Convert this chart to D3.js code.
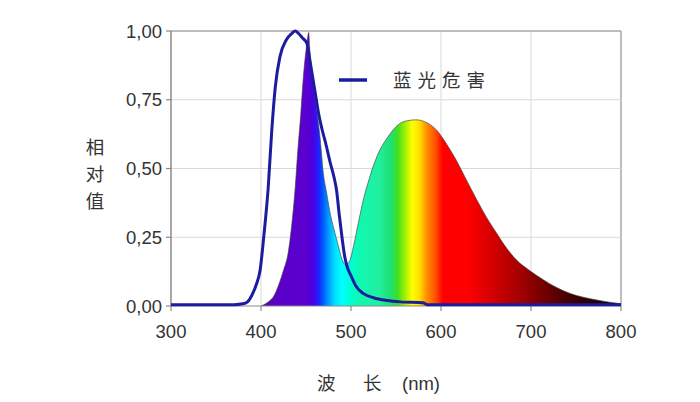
<!DOCTYPE html>
<html>
<head>
<meta charset="utf-8">
<script src="https://cdn.jsdelivr.net/npm/d3@7"></script>
<style>
  html, body { margin: 0; padding: 0; background: #fff; }
  svg { display: block; }
</style>
</head>
<body>
<div id="chart"></div>
<script>
// ---- data ----
const xTicks = [300, 400, 500, 600, 700, 800];
const yTicks = [0, 0.25, 0.5, 0.75, 1.0];
const yTickLabels = ["0,00", "0,25", "0,50", "0,75", "1,00"];
const xTitleParts = ["波", "长", "(nm)"];
const yTitleChars = ["相", "对", "值"];
const legendLabel = "蓝光危害";

// blue light hazard curve
const hazardNm  = [300, 370, 380, 385, 390, 395, 399, 403, 408, 412, 416, 421, 428, 434, 438, 442, 446, 451, 455, 458, 461, 464, 468, 472, 477, 481, 484, 487, 490, 493, 496, 500, 506, 514, 525, 540, 555, 580, 585, 800];
const hazardVal = [0.005, 0.005, 0.008, 0.015, 0.04, 0.08, 0.13, 0.25, 0.43, 0.64, 0.80, 0.906, 0.967, 0.99, 1.0, 0.99, 0.975, 0.955, 0.88, 0.82, 0.76, 0.70, 0.64, 0.59, 0.52, 0.47, 0.42, 0.33, 0.25, 0.18, 0.14, 0.11, 0.07, 0.045, 0.03, 0.02, 0.015, 0.012, 0.005, 0.005];

// LED emission spectrum
const ledNm  = [400, 405, 410, 414, 420, 425, 430, 434, 438, 441, 444, 447, 450, 452, 453, 454, 456, 459, 462, 466, 469, 473, 477, 481, 485, 490, 494, 498, 503, 508, 514, 520, 526, 532, 540, 550, 560, 572, 582, 595, 606, 617, 628, 640, 651, 662, 673, 684, 698, 714, 728, 743, 758, 773, 787, 800];
const ledVal = [0, 0.008, 0.02, 0.035, 0.08, 0.13, 0.19, 0.29, 0.43, 0.57, 0.69, 0.83, 0.93, 0.98, 0.995, 0.94, 0.86, 0.78, 0.71, 0.60, 0.49, 0.41, 0.335, 0.28, 0.23, 0.17, 0.15, 0.16, 0.22, 0.30, 0.39, 0.46, 0.52, 0.567, 0.61, 0.652, 0.672, 0.677, 0.67, 0.64, 0.59, 0.53, 0.46, 0.385, 0.32, 0.264, 0.21, 0.167, 0.13, 0.095, 0.068, 0.046, 0.032, 0.022, 0.014, 0.008];

// spectral colour stops (wavelength -> colour)
const specNm    = [400, 420, 450, 458, 464, 468, 474, 482, 490, 500, 510, 530, 545, 552, 560, 568, 576, 584, 594, 602, 630, 660, 690, 715, 745, 775, 800];
const specColor = ["#5010a0", "#5a00c8", "#5a00d0", "#4a00e0", "#2020ff", "#0050ff", "#0090ff", "#00e0ff", "#00ffff", "#00ffd0", "#10f8b0", "#20f0a0", "#20e070", "#40e020", "#a0f000", "#ffff00", "#ffe000", "#ff9000", "#ff5000", "#ff0000", "#ff0000", "#d00000", "#a00000", "#700000", "#400000", "#200000", "#100000"];

// ---- layout ----
const W = 700, H = 402;
const m = { left: 171, right: 79, top: 31, bottom: 96 };
const iw = W - m.left - m.right, ih = H - m.top - m.bottom;

const svg = d3.select("#chart").append("svg").attr("width", W).attr("height", H);
const g = svg.append("g").attr("transform", `translate(${m.left},${m.top})`);

const x = d3.scaleLinear().domain([300, 800]).range([0, iw]);
const y = d3.scaleLinear().domain([0, 1]).range([ih, 0]);

const numFont = "'Liberation Sans', Arial, sans-serif";
const cjkFont = "'Noto Sans CJK SC', sans-serif";

// grid
g.append("g").selectAll("line.gx").data(xTicks.slice(1)).join("line")
  .attr("x1", d => x(d)).attr("x2", d => x(d)).attr("y1", 0).attr("y2", ih)
  .attr("stroke", d => d === 800 ? "#a8a8a8" : "#d9d9d9").attr("stroke-width", d => d === 800 ? 1.5 : 1);
g.append("g").selectAll("line.gy").data(yTicks.slice(1)).join("line")
  .attr("x1", 0).attr("x2", iw).attr("y1", d => y(d)).attr("y2", d => y(d))
  .attr("stroke", d => d === 1 ? "#a8a8a8" : "#d9d9d9").attr("stroke-width", d => d === 1 ? 1.5 : 1);

// gradient
const defs = svg.append("defs");
const grad = defs.append("linearGradient").attr("id", "spec")
  .attr("gradientUnits", "userSpaceOnUse")
  .attr("x1", x(specNm[0])).attr("x2", x(specNm[specNm.length - 1])).attr("y1", 0).attr("y2", 0);
grad.selectAll("stop").data(specNm).join("stop")
  .attr("offset", (d) => (d - specNm[0]) / (specNm[specNm.length - 1] - specNm[0]))
  .attr("stop-color", (d, i) => specColor[i]);

const led = ledNm.map((d, i) => [d, ledVal[i]]);
const area = d3.area().x(d => x(d[0])).y0(y(0)).y1(d => y(d[1])).curve(d3.curveMonotoneX);
g.append("path").datum(led).attr("d", area).attr("fill", "url(#spec)");
const ledLine = d3.line().x(d => x(d[0])).y(d => y(d[1])).curve(d3.curveMonotoneX);
g.append("path").datum(led).attr("d", ledLine).attr("fill", "none")
  .attr("stroke", "#404040").attr("stroke-width", 0.8).attr("stroke-opacity", 0.8);

// axes
const yAxis = g.append("g");
yAxis.append("line").attr("x1", 0).attr("x2", 0).attr("y1", 0).attr("y2", ih)
  .attr("stroke", "#8a8a8a").attr("stroke-width", 1.5);
yAxis.selectAll("line.t").data(yTicks).join("line").attr("class", "t")
  .attr("x1", -5).attr("x2", 0).attr("y1", d => y(d)).attr("y2", d => y(d))
  .attr("stroke", "#8a8a8a").attr("stroke-width", 1.2);
yAxis.selectAll("text").data(yTicks).join("text")
  .attr("x", -9).attr("y", d => y(d)).attr("dy", "0.36em")
  .attr("text-anchor", "end").attr("font-family", numFont).attr("font-size", 18.5)
  .attr("fill", "#333").text((d, i) => yTickLabels[i]);

const xAxis = g.append("g").attr("transform", `translate(0,${ih})`);
xAxis.append("line").attr("x1", 0).attr("x2", iw).attr("stroke", "#8a8a8a").attr("stroke-width", 1.2);
xAxis.selectAll("line.t").data(xTicks).join("line").attr("class", "t")
  .attr("x1", d => x(d)).attr("x2", d => x(d)).attr("y1", 0).attr("y2", 5)
  .attr("stroke", "#8a8a8a").attr("stroke-width", 1.2);
xAxis.selectAll("text").data(xTicks).join("text")
  .attr("x", d => x(d)).attr("y", 25).attr("dy", "0.36em")
  .attr("text-anchor", "middle").attr("font-family", numFont).attr("font-size", 18.5)
  .attr("fill", "#333").text(d => d);

// hazard curve
const hz = hazardNm.map((d, i) => [d, hazardVal[i]]);
g.append("path").datum(hz).attr("d", ledLine).attr("fill", "none")
  .attr("stroke", "#1c1ca0").attr("stroke-width", 3).attr("stroke-linejoin", "round");

// legend
const lg = svg.append("g");
lg.append("line").attr("x1", 339).attr("x2", 367).attr("y1", 80).attr("y2", 80)
  .attr("stroke", "#1c1ca0").attr("stroke-width", 3.5);
lg.append("text").attr("x", 393).attr("y", 80).attr("dy", "0.36em")
  .attr("font-family", cjkFont).attr("font-size", 18.5).attr("letter-spacing", 6)
  .attr("fill", "#333").text(legendLabel);

// axis titles
const xTitleX = [317, 363, 402];
svg.append("g").selectAll("text").data(xTitleParts).join("text")
  .attr("x", (d, i) => xTitleX[i]).attr("y", 383).attr("dy", "0.36em")
  .attr("font-family", (d, i) => i === 2 ? numFont : cjkFont).attr("font-size", 18.5)
  .attr("fill", "#333").text(d => d);
svg.append("g").selectAll("text").data(yTitleChars).join("text")
  .attr("x", 95).attr("y", (d, i) => 147 + i * 27).attr("dy", "0.36em")
  .attr("text-anchor", "middle").attr("font-family", cjkFont).attr("font-size", 18.5)
  .attr("fill", "#333").text(d => d);
</script>
</body>
</html>
